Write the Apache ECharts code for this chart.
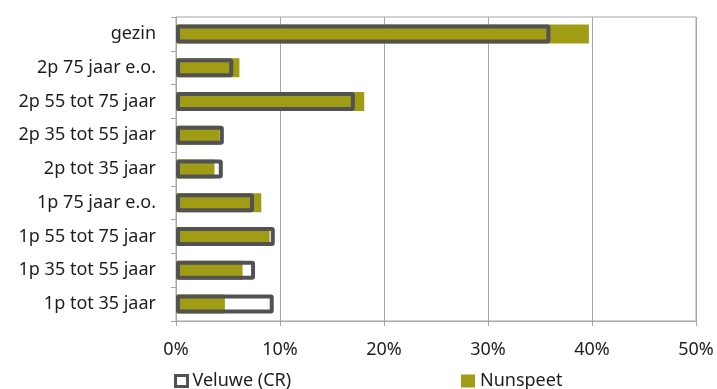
<!DOCTYPE html>
<html>
<head>
<meta charset="utf-8">
<script src="https://cdn.jsdelivr.net/npm/echarts@6/dist/echarts.min.js"></script>
<style>
  html, body { margin: 0; padding: 0; background: #fff; }
  #chart { width: 717px; height: 389px; }
</style>
</head>
<body>
<div id="chart"></div>
<script>
// Huishoudtypen, aandeel in procenten (van onder naar boven)
const categories = [
  '1p tot 35 jaar', '1p 35 tot 55 jaar', '1p 55 tot 75 jaar', '1p 75 jaar e.o.',
  '2p tot 35 jaar', '2p 35 tot 55 jaar', '2p 55 tot 75 jaar', '2p 75 jaar e.o.', 'gezin'
];
const nunspeet = [4.7, 6.4, 9.0, 8.2, 3.7, 4.2, 18.1, 6.1, 39.7];
const veluwe   = [9.4, 7.6, 9.5, 7.5, 4.5, 4.6, 17.2, 5.5, 36.0];
const xTicks = { min: 0, max: 50, interval: 10 };

const FONT = 'Noto Sans';
const OLIVE = '#a09c14';
const DARK = '#525254';
const GRID = '#a6a6a6';
const TEXT = '#1e1e1e';

const chart = echarts.init(document.getElementById('chart'), null, { renderer: 'canvas' });
chart.setOption({
  animation: false,
  textStyle: { fontFamily: FONT },
  grid: {
    left: 176, right: 21, top: 17, bottom: 68,
    show: true, borderColor: GRID, borderWidth: 1, backgroundColor: 'transparent'
  },
  legend: [
    {
      data: [{ name: 'Veluwe (CR)', icon: 'rect', itemStyle: { color: '#fff', borderColor: DARK, borderWidth: 3 } }],
      left: 169, top: 367, itemWidth: 12, itemHeight: 11, itemGap: 5,
      textStyle: { fontSize: 18, color: TEXT, fontFamily: FONT }
    },
    {
      data: [{ name: 'Nunspeet', icon: 'rect' }],
      left: 456, top: 367, itemWidth: 14, itemHeight: 13, itemGap: 5,
      textStyle: { fontSize: 18, color: TEXT, fontFamily: FONT }
    }
  ],
  xAxis: {
    type: 'value',
    min: xTicks.min, max: xTicks.max, interval: xTicks.interval,
    axisLine: { show: true, lineStyle: { color: GRID } },
    axisTick: { show: true, length: 5, lineStyle: { color: GRID } },
    splitLine: { show: true, lineStyle: { color: GRID } },
    axisLabel: { formatter: '{value}%', fontSize: 18, color: TEXT, margin: 20, fontFamily: FONT }
  },
  yAxis: {
    type: 'category',
    data: categories,
    axisLine: { show: true, lineStyle: { color: GRID } },
    axisTick: { show: true, length: 5, lineStyle: { color: GRID } },
    axisLabel: { fontSize: 18, color: TEXT, margin: 20, fontFamily: FONT }
  },
  series: [
    {
      name: 'Nunspeet',
      type: 'bar',
      data: nunspeet,
      barWidth: 19,
      barGap: '-100%',
      itemStyle: { color: OLIVE }
    },
    {
      name: 'Veluwe (CR)',
      type: 'bar',
      data: veluwe,
      barWidth: 19,
      barGap: '-100%',
      z: 3,
      itemStyle: { color: 'rgba(0,0,0,0)', borderColor: DARK, borderWidth: 4, borderRadius: 1 }
    }
  ]
});
</script>
</body>
</html>
